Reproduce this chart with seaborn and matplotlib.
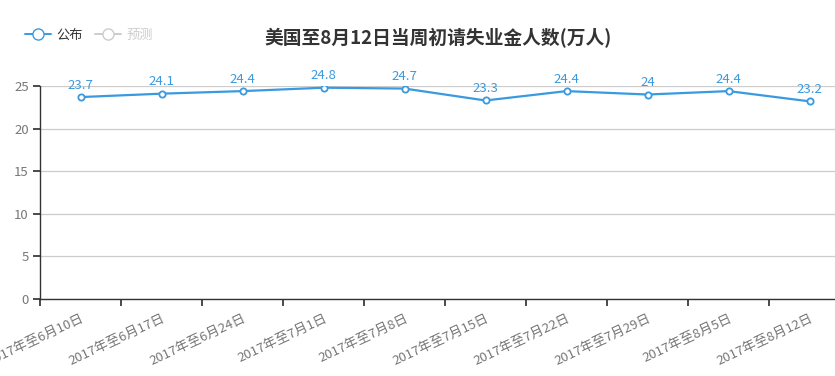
import matplotlib
matplotlib.use("Agg")
import matplotlib.pyplot as plt
import matplotlib.transforms as mtransforms
import seaborn as sns
import numpy as np
import pandas as pd
from matplotlib.lines import Line2D

# data
weeks = ["2017年至6月10日", "2017年至6月17日", "2017年至6月24日", "2017年至7月1日",
         "2017年至7月8日", "2017年至7月15日", "2017年至7月22日", "2017年至7月29日",
         "2017年至8月5日", "2017年至8月12日"]
claims = [23.7, 24.1, 24.4, 24.8, 24.7, 23.3, 24.4, 24.0, 24.4, 23.2]
value_labels = ["23.7", "24.1", "24.4", "24.8", "24.7", "23.3", "24.4", "24", "24.4", "23.2"]
y_ticks = [0, 5, 10, 15, 20, 25]

BLUE = "#3a9ae0"

sns.set_theme(style="white")
plt.rcParams["font.family"] = ["Noto Sans CJK SC", "DejaVu Sans"]

df = pd.DataFrame({"idx": np.arange(len(weeks)), "week": weeks, "claims": claims})

fig = plt.figure(figsize=(8.35, 3.76), dpi=100)
# the category axis runs a little past the right edge, as in the original
ax = fig.add_axes([40 / 835, 77 / 376, 810 / 835, 213 / 376])

sns.lineplot(data=df, x="idx", y="claims", ax=ax, color=BLUE, linewidth=1.6,
             marker="o", markersize=4.5, markerfacecolor="white",
             markeredgecolor=BLUE, markeredgewidth=1.3, zorder=3)

for i, (v, s) in enumerate(zip(claims, value_labels)):
    ax.annotate(s, (i, v), xytext=(0, 4), textcoords="offset points",
                ha="center", va="bottom", color=BLUE, fontsize=9.5)

ax.set_xlim(-0.5, len(weeks) - 0.5)
ax.set_ylim(0, 25)
ax.set_yticks(y_ticks)
ax.set_yticklabels([str(t) for t in y_ticks], color="#777777", fontsize=9.5)
ax.yaxis.grid(True, color="#cccccc", linewidth=0.9)
ax.xaxis.grid(False)

# ticks at band boundaries, labels at band centres
ax.set_xticks(np.arange(len(weeks) + 1) - 0.5)
ax.set_xticklabels([])
ax.set_xticks(np.arange(len(weeks)), minor=True)
ax.set_xticklabels(weeks, minor=True, rotation=25, ha="right",
                   rotation_mode="anchor", color="#777777", fontsize=9.5)
shift = mtransforms.ScaledTranslation(8 / 100, 0, fig.dpi_scale_trans)
for lbl in ax.xaxis.get_minorticklabels():
    lbl.set_transform(lbl.get_transform() + shift)
ax.tick_params(axis="x", which="major", length=5, color="#333333", direction="out", bottom=True)
ax.tick_params(axis="x", which="minor", length=0, pad=9)
ax.tick_params(axis="y", length=5, color="#333333", direction="out", left=True, pad=3)

for side in ["top", "right"]:
    ax.spines[side].set_visible(False)
for side in ["left", "bottom"]:
    ax.spines[side].set_color("#333333")
    ax.spines[side].set_linewidth(1.0)

ax.set_xlabel("")
ax.set_ylabel("")

fig.text(438 / 835, 1 - 38 / 376, "美国至8月12日当周初请失业金人数(万人)",
         ha="center", va="center", fontsize=13.5, fontweight="bold", color="#333333")

handles = [
    Line2D([], [], color=BLUE, marker="o", markersize=8, markerfacecolor="white",
           markeredgecolor=BLUE, linewidth=1.4),
    Line2D([], [], color="#cccccc", marker="o", markersize=8, markerfacecolor="white",
           markeredgecolor="#cccccc", linewidth=1.4),
]
leg = fig.legend(handles, ["公布", "预测"], loc="center left",
                 bbox_to_anchor=(25 / 835, 1 - 35 / 376), ncol=2, frameon=False,
                 fontsize=9.5, handlelength=2.0, columnspacing=0.9, handletextpad=0.4,
                 borderaxespad=0, borderpad=0)
leg.get_texts()[0].set_color("#333333")
leg.get_texts()[1].set_color("#cccccc")

fig.savefig("out.png", dpi=100)
